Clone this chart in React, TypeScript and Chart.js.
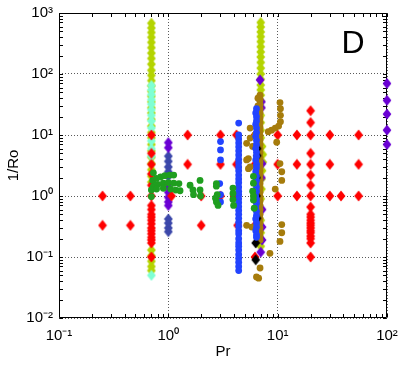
import React, { useEffect, useRef } from 'react';
import { Chart, registerables } from 'chart.js';

Chart.register(...registerables);

// ---------- axis / text content ----------
const xTickValues = [0.1, 1, 10, 100];
const xTickLabels = ['10⁻¹', '10⁰', '10¹', '10²'];
const yTickValues = [0.01, 0.1, 1, 10, 100, 1000];
const yTickLabels = ['10⁻²', '10⁻¹', '10⁰', '10¹', '10²', '10³'];
const xTitle = 'Pr';
const yTitle = '1/Ro';
const panelLabel = 'D';

type P = [number, number];

// ---------- data: [Pr, 1/Ro] ----------
const greenPoints: P[] = [
  [0.73, 2.4], [0.72, 1.8], [0.78, 1.95], [0.85, 2.05], [0.93, 2.15], [1.03, 2.2], [1.12, 2.2],
  [0.73, 1.43], [0.8, 1.55], [0.9, 1.62], [1.0, 1.65], [1.12, 1.62], [1.25, 1.6],
  [0.7, 1.26], [0.78, 1.3], [0.9, 1.34], [1.05, 1.3], [1.17, 1.25], [1.28, 1.22],
  [0.7, 0.98],
  [1.58, 1.5], [1.68, 1.26], [1.7, 1.05], [1.95, 1.8], [1.95, 1.26], [1.97, 1.0],
  [2.75, 1.6], [2.75, 1.45], [2.8, 1.05], [2.7, 0.92], [2.75, 0.8], [2.85, 0.7],
  [3.9, 1.35], [3.9, 1.1], [3.9, 0.88], [3.95, 0.7],
  [6.0, 2.1], [6.0, 1.62], [5.9, 1.2], [6.0, 1.0], [6.0, 0.86], [6.1, 0.63],
];

const bluePoints: P[] = [
  [3.0, 7.8], [3.0, 5.7], [3.0, 3.9], [2.95, 1.6], [3.0, 1.05], [3.0, 0.8],
  [4.4, 15.7], [4.4, 10], [4.4, 8.6], [4.4, 7.4], [4.4, 6.4], [4.4, 5.5], [4.4, 4.7], [4.4, 4],
  [4.4, 3.5], [4.4, 3], [4.4, 2.6], [4.4, 2.2], [4.4, 1.9], [4.4, 1.65], [4.4, 1.4], [4.4, 1.2],
  [4.4, 1.05], [4.4, 0.9], [4.4, 0.78], [4.4, 0.67], [4.4, 0.58], [4.4, 0.5], [4.4, 0.43],
  [4.4, 0.37], [4.4, 0.32], [4.4, 0.27], [4.4, 0.24], [4.4, 0.2], [4.4, 0.17], [4.4, 0.15],
  [4.4, 0.13], [4.4, 0.11], [4.4, 0.095], [4.4, 0.082], [4.4, 0.07], [4.4, 0.06],
  [6.4, 27], [6.3, 23], [6.4, 20], [6.4, 17], [6.3, 15], [6.4, 13], [6.4, 11], [6.3, 9.5],
  [6.4, 8.2], [6.4, 7], [6.3, 6], [6.4, 5.2], [6.4, 4.5], [6.3, 3.9], [6.4, 3.3], [6.4, 2.9],
  [6.3, 2.5], [6.4, 2.1], [6.4, 1.8], [6.3, 1.6], [6.4, 1.4], [6.4, 1.2], [6.3, 1.0],
  [6.4, 0.88], [6.4, 0.76], [6.3, 0.65], [6.4, 0.56], [6.4, 0.48], [6.3, 0.42], [6.4, 0.36],
  [6.4, 0.31], [6.3, 0.27], [6.4, 0.23], [6.4, 0.21],
];

const blackPoints: P[] = [
  [6.3, 0.17], [6.3, 0.09], [6.5, 6], [6.5, 4.6], [6.4, 2], [6.4, 1], [6.5, 0.43],
];

const brownPoints: P[] = [
  [6.9, 45], [6.9, 38], [6.9, 32], [6.9, 27], [6.9, 23], [6.9, 19], [6.9, 16], [6.9, 13.5],
  [6.9, 11.5], [6.9, 9.8], [6.9, 8.3], [6.9, 7], [6.9, 6], [6.9, 5.1], [6.9, 4.3], [6.9, 3.6],
  [6.9, 3.1], [6.9, 2.6], [6.9, 2.2], [6.9, 1.9], [6.9, 1.6], [6.9, 1.35], [6.9, 1.15],
  [6.9, 0.98], [6.9, 0.83], [6.9, 0.7], [6.9, 0.6], [6.9, 0.5], [6.9, 0.43], [6.9, 0.36],
  [6.9, 0.3], [6.9, 0.26], [6.9, 0.22], [6.9, 0.19],
  [6.6, 40], [6.6, 30], [6.6, 22], [6.6, 17], [6.6, 13],
  [5.6, 13], [6.2, 10], [5.6, 8.9], [5.2, 7.3], [5.9, 6.5], [5.4, 4.1], [5.2, 3.9], [5.6, 3.0],
  [5.4, 2.8], [5.2, 0.33], [5.8, 0.31], [6.4, 0.047], [6.9, 0.066], [8.5, 0.115], [6.7, 0.045],
  [8.2, 11.3], [8.8, 12], [9.5, 13], [10.2, 14], [10.6, 16.5], [10.6, 21], [10.6, 27], [10.5, 34],
  [9.8, 7.6], [10.5, 3.4], [10.9, 2.5], [10.9, 1.8], [9.5, 1.3], [10.9, 0.34], [10.9, 0.25],
  [10.5, 0.18],
];

const redPoints: P[] = [
  [0.25, 1], [0.25, 0.33], [0.45, 1], [0.45, 0.33],
  [0.7, 10], [0.7, 5], [0.7, 3.3], [0.7, 2.3], [0.7, 1.5], [0.7, 1], [0.7, 0.7], [0.7, 0.6],
  [0.7, 0.5], [0.7, 0.45], [0.7, 0.4], [0.7, 0.35], [0.7, 0.3], [0.7, 0.27], [0.7, 0.24],
  [0.7, 0.21], [0.7, 0.19], [0.7, 0.17], [0.7, 0.1],
  [1.07, 1],
  [1.5, 10], [1.5, 3.3],
  [2, 1], [2, 0.33],
  [3, 10], [3, 3.3], [3, 1],
  [4.2, 10], [4.2, 3.3], [4.0, 1], [4.3, 0.33],
  [6.2, 10], [6.2, 3.3], [6.2, 1], [6.2, 0.33], [6.2, 0.1],
  [10, 10], [10, 3.3], [10, 1],
  [15, 10], [15, 3.3], [15, 1],
  [20, 25], [20, 16], [20, 10], [20, 5], [20, 3.3], [20, 2.2], [20, 1.5], [20, 1], [20, 0.66],
  [20, 0.5], [20, 0.45], [20, 0.4], [20, 0.36], [20, 0.33], [20, 0.3], [20, 0.27], [20, 0.25],
  [20, 0.22], [20, 0.2], [20, 0.17], [20, 0.1],
  [30, 10], [30, 3.3], [30, 1],
  [38, 1],
  [55, 10], [55, 3.3], [55, 1],
];

const purplePoints: P[] = [
  [1, 7.5], [1, 6.2], [1, 1.4], [1, 1.15], [1, 0.95], [1, 0.8], [1, 0.7],
  [100, 70], [100, 37], [100, 22], [100, 12], [100, 7],
  [6.9, 80], [7.1, 35], [7.1, 28], [7.2, 3.4], [7.1, 2], [7.2, 0.6], [7.2, 0.31], [7.2, 0.19],
  [7.0, 0.12],
];

const slatePoints: P[] = [
  [1, 4.5], [1, 3.7], [1, 3], [1, 2.5], [1, 2.1], [1, 0.42], [1, 0.36], [1, 0.3], [1, 0.26],
];

const cyanPoints: P[] = [
  [0.7, 65], [0.7, 55], [0.7, 46], [0.7, 38], [0.7, 32], [0.7, 26], [0.7, 21], [0.7, 17],
  [0.7, 13], [0.7, 8], [0.7, 6], [0.7, 4.5], [0.7, 0.05],
];

const limePoints: P[] = [
  [0.7, 680], [0.7, 570], [0.7, 480], [0.7, 400], [0.7, 330], [0.7, 270], [0.7, 220],
  [0.7, 180], [0.7, 145], [0.7, 115], [0.7, 95], [0.7, 78], [0.7, 64], [0.7, 52], [0.7, 43],
  [0.7, 35], [0.7, 28], [0.7, 23], [0.7, 18], [0.7, 14], [0.7, 11], [0.7, 9], [0.7, 7],
  [0.7, 5.5], [0.7, 4.3], [0.7, 3.4], [0.7, 2.7], [0.7, 2.1], [0.7, 1.7],
  [0.7, 0.13], [0.7, 0.105], [0.7, 0.085], [0.7, 0.07], [0.7, 0.06],
  [7, 700], [7, 590], [7, 490], [7, 410], [7, 340], [7, 280], [7, 230], [7, 190], [7, 155],
  [7, 125], [7, 100], [7, 82], [7, 66], [7, 55], [7, 45], [7, 36], [7, 28], [7, 21], [7, 16],
  [7, 12], [7, 9], [7.2, 6.5], [7.3, 4.8], [7.3, 3.6], [7.2, 2.6], [7.1, 1.9], [7.1, 1.3],
  [7, 0.9], [7, 0.6], [7, 0.4], [7, 0.25], [7, 0.15],
];

// ---------- series styling (top-most first) ----------
const seriesDefs: { label: string; points: P[]; color: string; marker: 'circle' | 'diamond' }[] = [
  { label: 'green', points: greenPoints, color: '#1f9e1f', marker: 'circle' },
  { label: 'blue', points: bluePoints, color: '#2244ff', marker: 'circle' },
  { label: 'black', points: blackPoints, color: '#000000', marker: 'diamond' },
  { label: 'brown', points: brownPoints, color: '#a67c0c', marker: 'circle' },
  { label: 'red', points: redPoints, color: '#ff0000', marker: 'diamond' },
  { label: 'purple', points: purplePoints, color: '#6a00d4', marker: 'diamond' },
  { label: 'slate', points: slatePoints, color: '#3c48aa', marker: 'diamond' },
  { label: 'cyan', points: cyanPoints, color: '#7fffd4', marker: 'diamond' },
  { label: 'lime', points: limePoints, color: '#b4d400', marker: 'diamond' },
];

const FONT = '"Liberation Sans", Arial, Helvetica, sans-serif';

function makeDiamond(color: string): HTMLCanvasElement {
  const c = document.createElement('canvas');
  c.width = 10;
  c.height = 12;
  const g = c.getContext('2d')!;
  g.fillStyle = color;
  g.beginPath();
  g.moveTo(5, 0.6);
  g.lineTo(9.4, 6);
  g.lineTo(5, 11.4);
  g.lineTo(0.6, 6);
  g.closePath();
  g.fill();
  return c;
}

function minorValues(min: number, max: number): number[] {
  const out: number[] = [];
  for (let d = min; d < max * 0.999; d *= 10) {
    for (let k = 1; k <= 10; k++) out.push(d * k);
  }
  return out;
}

const boxPlugin = {
  id: 'matlabBox',
  beforeDatasetsDraw(chart: any) {
    const { ctx, chartArea } = chart;
    const { left, right, top, bottom } = chartArea;
    const xs = chart.scales.x;
    const ys = chart.scales.y;
    const L = Math.round(left) + 0.5;
    const R = Math.round(right) - 0.5;
    const T = Math.round(top) + 0.5;
    const B = Math.round(bottom) - 0.5;
    ctx.save();
    ctx.strokeStyle = '#000';
    ctx.lineWidth = 1;
    ctx.setLineDash([]);
    ctx.beginPath();
    ctx.rect(L, T, R - L, B - T);
    const tl = 3.5;
    for (const v of minorValues(0.1, 100)) {
      const px = Math.round(xs.getPixelForValue(v)) + 0.5;
      ctx.moveTo(px, B); ctx.lineTo(px, B - tl);
      ctx.moveTo(px, T); ctx.lineTo(px, T + tl);
    }
    for (const v of minorValues(0.01, 1000)) {
      const py = Math.round(ys.getPixelForValue(v)) + 0.5;
      ctx.moveTo(L, py); ctx.lineTo(L + tl, py);
      ctx.moveTo(R, py); ctx.lineTo(R - tl, py);
    }
    ctx.stroke();
    ctx.restore();
  },
  afterDraw(chart: any) {
    const { ctx, chartArea } = chart;
    ctx.save();
    ctx.fillStyle = '#000';
    ctx.font = `32px ${FONT}`;
    ctx.textAlign = 'center';
    ctx.textBaseline = 'alphabetic';
    ctx.fillText(panelLabel, chartArea.right - 34, chartArea.top + 40);
    ctx.restore();
  },
};

export default function App() {
  const ref = useRef<HTMLCanvasElement | null>(null);

  useEffect(() => {
    document.body.style.margin = '0';
    const canvas = ref.current;
    if (!canvas) return;

    const datasets = seriesDefs.map((s) => ({
      label: s.label,
      data: s.points.map(([x, y]) => ({ x, y })),
      showLine: false,
      clip: false,
      pointStyle: s.marker === 'diamond' ? makeDiamond(s.color) : 'circle',
      pointRadius: s.marker === 'diamond' ? 5 : 3.4,
      pointHoverRadius: s.marker === 'diamond' ? 5 : 3.4,
      pointBorderWidth: 0,
      backgroundColor: s.color,
      borderColor: s.color,
    }));

    const chart = new Chart(canvas, {
      type: 'scatter',
      data: { datasets: datasets as any },
      plugins: [boxPlugin as any],
      options: {
        animation: false,
        responsive: false,
        events: [],
        layout: { padding: { left: 0, right: 15, top: 13, bottom: 0 } },
        plugins: { legend: { display: false }, tooltip: { enabled: false } },
        scales: {
          x: {
            type: 'logarithmic',
            position: 'bottom',
            min: 0.1,
            max: 100,
            afterBuildTicks: (scale: any) => {
              scale.ticks = xTickValues.map((v) => ({ value: v, major: true }));
            },
            afterFit: (scale: any) => { scale.height = 51; },
            ticks: {
              autoSkip: false,
              maxRotation: 0,
              padding: 2,
              color: '#000',
              font: { family: FONT, size: 15 },
              callback: (_v: any, i: number) => xTickLabels[i],
            },
            grid: {
              color: '#5a5a5a',
              lineWidth: 1,
              drawTicks: true,
              tickLength: 7,
              tickColor: 'rgba(0,0,0,0)',
            },
            border: { display: false, dash: [1, 2] },
            title: {
              display: true,
              text: xTitle,
              color: '#000',
              font: { family: FONT, size: 15 },
              padding: { top: 0, bottom: 8 },
            },
          },
          y: {
            type: 'logarithmic',
            position: 'left',
            min: 0.01,
            max: 1000,
            afterBuildTicks: (scale: any) => {
              scale.ticks = yTickValues.map((v) => ({ value: v, major: true }));
            },
            afterFit: (scale: any) => { scale.width = 59; },
            ticks: {
              autoSkip: false,
              padding: 2,
              color: '#000',
              font: { family: FONT, size: 15 },
              callback: (_v: any, i: number) => yTickLabels[i],
            },
            grid: {
              color: '#5a5a5a',
              lineWidth: 1,
              drawTicks: true,
              tickLength: 4,
              tickColor: 'rgba(0,0,0,0)',
            },
            border: { display: false, dash: [1, 2] },
            title: {
              display: true,
              text: yTitle,
              color: '#000',
              font: { family: FONT, size: 15 },
              padding: { top: 5, bottom: 0 },
            },
          },
        },
      } as any,
    });

    return () => chart.destroy();
  }, []);

  return (
    <div style={{ width: 402, height: 369 }}>
      <canvas ref={ref} width={402} height={369} style={{ display: 'block', width: 402, height: 369 }} />
    </div>
  );
}
